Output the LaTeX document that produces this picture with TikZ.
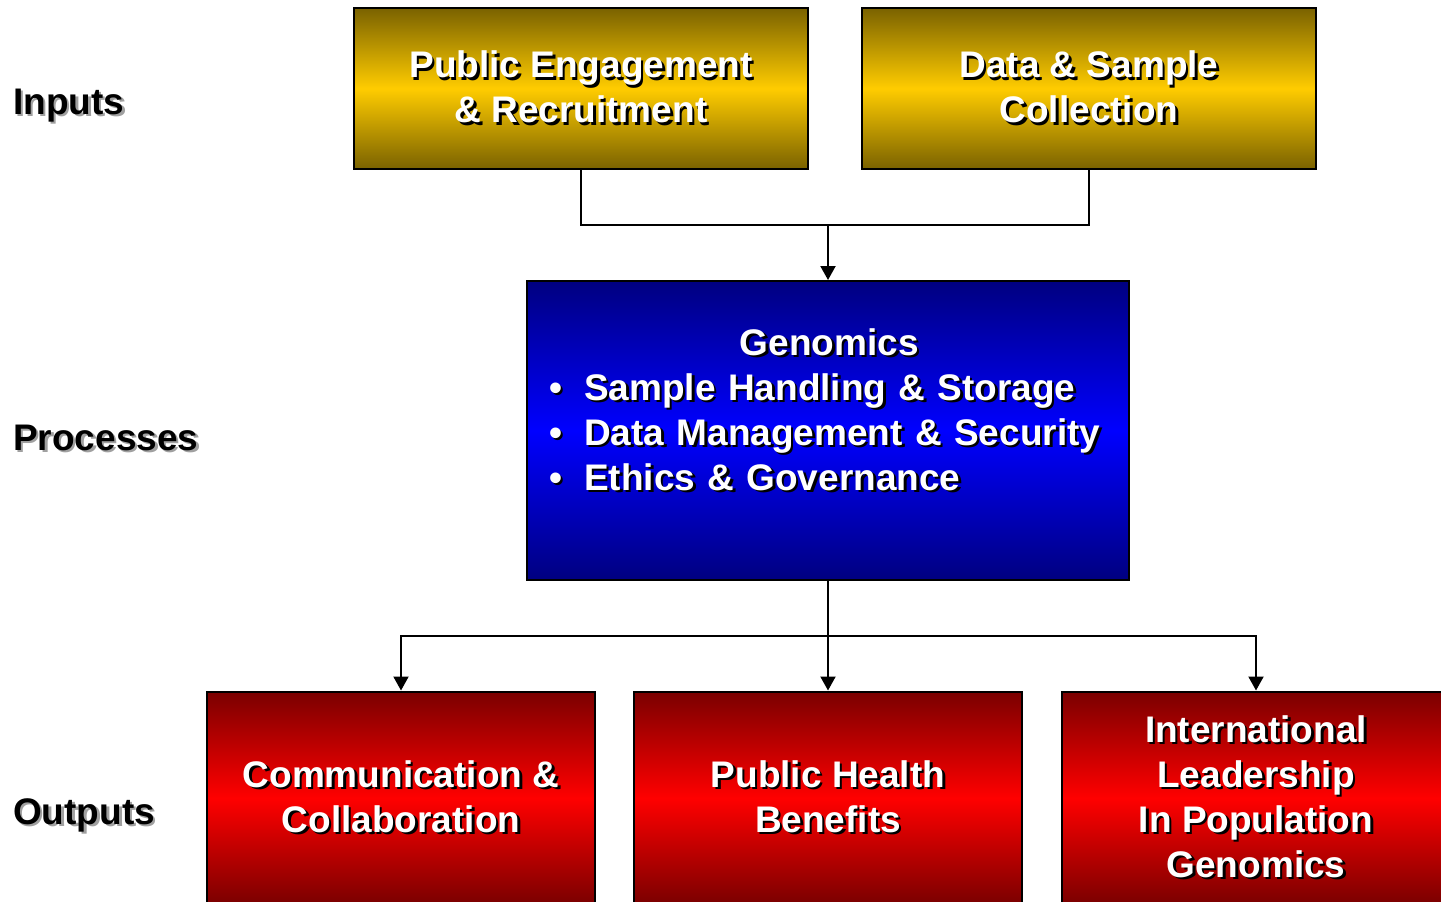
\documentclass[tikz,border=0pt]{standalone}
\usepackage{fontspec}
\setmainfont{Liberation Sans}
\usetikzlibrary{arrows.meta}

% text with a drop shadow offset to the lower right
\newcommand\shadowed[2][black]{\leavevmode\rlap{\hspace{2.5pt}\raisebox{-2.5pt}{\textcolor{#1}{#2}}}#2}

\definecolor{golddark}{HTML}{7A6200}
\definecolor{goldlight}{HTML}{FFCC00}
\definecolor{bluedark}{HTML}{000080}
\definecolor{bluelight}{HTML}{0000FF}
\definecolor{reddark}{HTML}{7A0000}
\definecolor{redlight}{HTML}{FF0000}
\definecolor{labelshadow}{HTML}{A0A0A0}

\begin{document}
\begin{tikzpicture}[x=1pt,y=-1pt,
  every node/.style={inner sep=0pt, font=\bfseries\fontsize{37}{45}\selectfont},
  box/.style={draw=black, line width=2pt, align=center, text=white},
  goldbox/.style={box, top color=golddark, bottom color=golddark, middle color=goldlight,
    minimum width=454pt, minimum height=161pt},
  bluebox/.style={box, top color=bluedark, bottom color=bluedark, middle color=bluelight,
    minimum width=602pt, minimum height=299pt},
  redbox/.style={box, top color=reddark, bottom color=reddark, middle color=redlight,
    minimum width=388pt, minimum height=213pt},
  rowlabel/.style={anchor=base west, text=black},
  link/.style={draw=black, line width=2pt},
  arrowlink/.style={link, -{Triangle[width=15pt,length=14pt]}}
]
\useasboundingbox (0,0) rectangle (1441,902);
\clip (0,0) rectangle (1441,902);
\fill[white] (0,0) rectangle (1441,902);

% row labels
\node[rowlabel] (inputs) at (13,114) {\shadowed[labelshadow]{Inputs}};
\node[rowlabel] (processes) at (13,450) {\shadowed[labelshadow]{Processes}};
\node[rowlabel] (outputs) at (13,824) {\shadowed[labelshadow]{Outputs}};

% inputs
\node[goldbox] (engage) at (581,88.5) {\shadowed{Public Engagement}\\\shadowed{\& Recruitment}};
\node[goldbox] (collect) at (1089,88.5) {\shadowed{Data \& Sample}\\\shadowed{Collection}};

% process
\node[bluebox] (genomics) at (828,430.5) {};
\node[anchor=north west, text width=560pt, align=left, text=white] (genlist) at (549,328)
  {\makebox[560pt][c]{\shadowed{Genomics}}\\
   \makebox[35pt][l]{\shadowed{\textbullet}}\shadowed{Sample Handling \& Storage}\\
   \makebox[35pt][l]{\shadowed{\textbullet}}\shadowed{Data Management \& Security}\\
   \makebox[35pt][l]{\shadowed{\textbullet}}\shadowed{Ethics \& Governance}};

% outputs
\node[redbox] (comm) at (401,798) {\shadowed{Communication \&}\\\shadowed{Collaboration}};
\node[redbox] (health) at (828,798) {\shadowed{Public Health}\\\shadowed{Benefits}};
\node[redbox] (leader) at (1256,798) {\shadowed{International}\\\shadowed{Leadership}\\\shadowed{In Population}\\\shadowed{Genomics}};

% connectors
\coordinate (merge) at (828,225);
\coordinate (split) at (828,636);
\draw[link] (engage.south) |- (merge) -| (collect.south);
\draw[arrowlink] (merge) -- (genomics.north);
\draw[link] (genomics.south) -- (split);
\draw[arrowlink] (split) -| (comm.north);
\draw[arrowlink] (split) -- (health.north);
\draw[arrowlink] (split) -| (leader.north);
\end{tikzpicture}
\end{document}
